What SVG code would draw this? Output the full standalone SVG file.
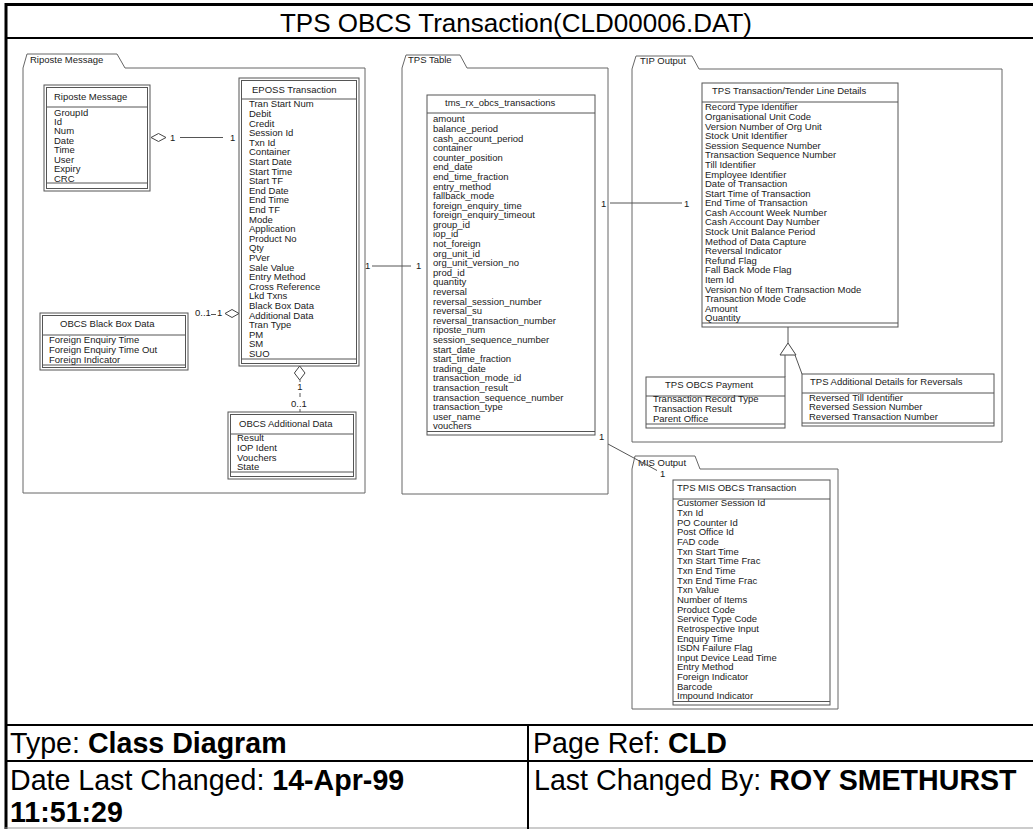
<svg xmlns="http://www.w3.org/2000/svg" width="1033" height="829" viewBox="0 0 1033 829">
<style>
.t{font-family:"Liberation Sans",Arial,sans-serif;font-size:9.5px;fill:#1a1a1a}
.ttl{font-family:"Liberation Sans",Arial,sans-serif;font-size:26px;fill:#000}
.ft{font-family:"Liberation Sans",Arial,sans-serif;font-size:28.6px;fill:#000}
.b{font-weight:bold}
.box{fill:#fff;stroke:#555;stroke-width:1}
.ln{fill:none;stroke:#555;stroke-width:1}
.pkg{fill:#fff;stroke:#666;stroke-width:1}
.dia{fill:#fff;stroke:#444;stroke-width:1}
.fr{stroke:#000;fill:none}
</style>
<rect x="0" y="0" width="1033" height="829" fill="#fff"/>
<g id="frame">
<line class="fr" x1="6" y1="3" x2="6" y2="829" stroke-width="3"/>
<line class="fr" x1="5" y1="4.5" x2="1033" y2="4.5" stroke-width="3"/>
<line class="fr" x1="5" y1="38" x2="1033" y2="38" stroke-width="2"/>
<text class="ttl" x="516" y="32" text-anchor="middle">TPS OBCS Transaction(CLD00006.DAT)</text>
<line class="fr" x1="5" y1="725" x2="1033" y2="725" stroke-width="2"/>
<line class="fr" x1="5" y1="761" x2="1033" y2="761" stroke-width="2"/>
<line x1="5" y1="828" x2="1033" y2="828" stroke="#999" stroke-width="1"/>
<line class="fr" x1="528" y1="725" x2="528" y2="829" stroke-width="2"/>
<text class="ft" x="10" y="753">Type: <tspan class="b">Class Diagram</tspan></text>
<text class="ft" x="533" y="753">Page Ref: <tspan class="b">CLD</tspan></text>
<text class="ft" x="10" y="790">Date Last Changed: <tspan class="b">14-Apr-99</tspan></text>
<text class="ft b" x="10" y="822">11:51:29</text>
<text class="ft" x="534" y="790">Last Changed By: <tspan class="b">ROY SMETHURST</tspan></text>
</g>
<g id="pkg-riposte">
<path class="pkg" d="M23,493 V68 L27,54 H117 L125,68 H365 V493 Z"/>
<text class="t" x="30" y="63">Riposte Message</text>
</g>
<g id="pkg-tps-table">
<path class="pkg" d="M402,494 V68 L406,55 H460 L467,68 H608 V494 Z"/>
<text class="t" x="408" y="63">TPS Table</text>
</g>
<g id="pkg-tip">
<path class="pkg" d="M632,442 V69 L636,56 H692 L699,69 H1002 V442 Z"/>
<text class="t" x="640" y="64">TIP Output</text>
</g>
<g id="pkg-mis">
<path class="pkg" d="M632,709 V469 L635,456 H695 L700,469 H838 V709 Z"/>
<text class="t" x="638" y="466">MIS Output</text>
</g>
<g id="cls-riposte-message">
<rect class="box" x="44" y="85" width="106" height="106"/>
<rect class="box" x="46.5" y="87.5" width="101" height="101"/>
<line class="ln" x1="46.5" y1="107" x2="147.5" y2="107"/>
<line class="ln" x1="46.5" y1="183" x2="147.5" y2="183"/>
<text class="t" x="54" y="100">Riposte Message</text>
<text class="t" x="54" y="115.5"><tspan x="54">GroupId</tspan><tspan x="54" dy="9.45">Id</tspan><tspan x="54" dy="9.45">Num</tspan><tspan x="54" dy="9.45">Date</tspan><tspan x="54" dy="9.45">Time</tspan><tspan x="54" dy="9.45">User</tspan><tspan x="54" dy="9.45">Expiry</tspan><tspan x="54" dy="9.45">CRC</tspan></text>
</g>
<g id="cls-eposs">
<rect class="box" x="239" y="78" width="120" height="288"/>
<rect class="box" x="241.5" y="80.5" width="115" height="283"/>
<line class="ln" x1="241.5" y1="99" x2="356.5" y2="99"/>
<line class="ln" x1="241.5" y1="359" x2="356.5" y2="359"/>
<text class="t" x="252" y="93">EPOSS Transaction</text>
<text class="t" x="249" y="107.4"><tspan x="249">Tran Start Num</tspan><tspan x="249" dy="9.6">Debit</tspan><tspan x="249" dy="9.6">Credit</tspan><tspan x="249" dy="9.6">Session Id</tspan><tspan x="249" dy="9.6">Txn Id</tspan><tspan x="249" dy="9.6">Container</tspan><tspan x="249" dy="9.6">Start Date</tspan><tspan x="249" dy="9.6">Start Time</tspan><tspan x="249" dy="9.6">Start TF</tspan><tspan x="249" dy="9.6">End Date</tspan><tspan x="249" dy="9.6">End Time</tspan><tspan x="249" dy="9.6">End TF</tspan><tspan x="249" dy="9.6">Mode</tspan><tspan x="249" dy="9.6">Application</tspan><tspan x="249" dy="9.6">Product No</tspan><tspan x="249" dy="9.6">Qty</tspan><tspan x="249" dy="9.6">PVer</tspan><tspan x="249" dy="9.6">Sale Value</tspan><tspan x="249" dy="9.6">Entry Method</tspan><tspan x="249" dy="9.6">Cross Reference</tspan><tspan x="249" dy="9.6">Lkd Txns</tspan><tspan x="249" dy="9.6">Black Box Data</tspan><tspan x="249" dy="9.6">Additional Data</tspan><tspan x="249" dy="9.6">Tran Type</tspan><tspan x="249" dy="9.6">PM</tspan><tspan x="249" dy="9.6">SM</tspan><tspan x="249" dy="9.6">SUO</tspan></text>
</g>
<g id="cls-black-box">
<rect class="box" x="40" y="313" width="148" height="57"/>
<rect class="box" x="42.5" y="315.5" width="143" height="52"/>
<line class="ln" x1="42.5" y1="335" x2="185.5" y2="335"/>
<line class="ln" x1="42.5" y1="365" x2="185.5" y2="365"/>
<text class="t" x="60" y="327">OBCS Black Box Data</text>
<text class="t" x="49" y="343.4"><tspan x="49">Foreign Enquiry Time</tspan><tspan x="49" dy="9.6">Foreign Enquiry Time Out</tspan><tspan x="49" dy="9.6">Foreign Indicator</tspan></text>
</g>
<g id="cls-additional-data">
<rect class="box" x="228" y="412" width="128" height="67"/>
<rect class="box" x="230.5" y="414.5" width="123" height="62"/>
<line class="ln" x1="230.5" y1="434" x2="353.5" y2="434"/>
<line class="ln" x1="230.5" y1="472" x2="353.5" y2="472"/>
<text class="t" x="239" y="427">OBCS Additional Data</text>
<text class="t" x="237" y="441.4"><tspan x="237">Result</tspan><tspan x="237" dy="9.6">IOP Ident</tspan><tspan x="237" dy="9.6">Vouchers</tspan><tspan x="237" dy="9.6">State</tspan></text>
</g>
<g id="cls-tms">
<rect class="box" x="427" y="95" width="168" height="340"/>
<line class="ln" x1="427" y1="113" x2="595" y2="113"/>
<line class="ln" x1="427" y1="431.5" x2="595" y2="431.5"/>
<text class="t" x="445" y="106">tms_rx_obcs_transactions</text>
<text class="t" x="433" y="122.4"><tspan x="433">amount</tspan><tspan x="433" dy="9.59">balance_period</tspan><tspan x="433" dy="9.59">cash_account_period</tspan><tspan x="433" dy="9.59">container</tspan><tspan x="433" dy="9.59">counter_position</tspan><tspan x="433" dy="9.59">end_date</tspan><tspan x="433" dy="9.59">end_time_fraction</tspan><tspan x="433" dy="9.59">entry_method</tspan><tspan x="433" dy="9.59">fallback_mode</tspan><tspan x="433" dy="9.59">foreign_enquiry_time</tspan><tspan x="433" dy="9.59">foreign_enquiry_timeout</tspan><tspan x="433" dy="9.59">group_id</tspan><tspan x="433" dy="9.59">iop_id</tspan><tspan x="433" dy="9.59">not_foreign</tspan><tspan x="433" dy="9.59">org_unit_id</tspan><tspan x="433" dy="9.59">org_unit_version_no</tspan><tspan x="433" dy="9.59">prod_id</tspan><tspan x="433" dy="9.59">quantity</tspan><tspan x="433" dy="9.59">reversal</tspan><tspan x="433" dy="9.59">reversal_session_number</tspan><tspan x="433" dy="9.59">reversal_su</tspan><tspan x="433" dy="9.59">reversal_transaction_number</tspan><tspan x="433" dy="9.59">riposte_num</tspan><tspan x="433" dy="9.59">session_sequence_number</tspan><tspan x="433" dy="9.59">start_date</tspan><tspan x="433" dy="9.59">start_time_fraction</tspan><tspan x="433" dy="9.59">trading_date</tspan><tspan x="433" dy="9.59">transaction_mode_id</tspan><tspan x="433" dy="9.59">transaction_result</tspan><tspan x="433" dy="9.59">transaction_sequence_number</tspan><tspan x="433" dy="9.59">transaction_type</tspan><tspan x="433" dy="9.59">user_name</tspan><tspan x="433" dy="9.59">vouchers</tspan></text>
</g>
<g id="cls-tip">
<rect class="box" x="702" y="83" width="196" height="244"/>
<line class="ln" x1="702" y1="102" x2="898" y2="102"/>
<line class="ln" x1="702" y1="323" x2="898" y2="323"/>
<text class="t" x="712" y="94">TPS Transaction/Tender Line Details</text>
<text class="t" x="705" y="110.4"><tspan x="705">Record Type Identifier</tspan><tspan x="705" dy="9.59">Organisational Unit Code</tspan><tspan x="705" dy="9.59">Version Number of Org Unit</tspan><tspan x="705" dy="9.59">Stock Unit Identifier</tspan><tspan x="705" dy="9.59">Session Sequence Number</tspan><tspan x="705" dy="9.59">Transaction Sequence Number</tspan><tspan x="705" dy="9.59">Till Identifier</tspan><tspan x="705" dy="9.59">Employee Identifier</tspan><tspan x="705" dy="9.59">Date of Transaction</tspan><tspan x="705" dy="9.59">Start Time of Transaction</tspan><tspan x="705" dy="9.59">End Time of Transaction</tspan><tspan x="705" dy="9.59">Cash Account Week Number</tspan><tspan x="705" dy="9.59">Cash Account Day Number</tspan><tspan x="705" dy="9.59">Stock Unit Balance Period</tspan><tspan x="705" dy="9.59">Method of Data Capture</tspan><tspan x="705" dy="9.59">Reversal Indicator</tspan><tspan x="705" dy="9.59">Refund Flag</tspan><tspan x="705" dy="9.59">Fall Back Mode Flag</tspan><tspan x="705" dy="9.59">Item Id</tspan><tspan x="705" dy="9.59">Version No of Item Transaction Mode</tspan><tspan x="705" dy="9.59">Transaction Mode Code</tspan><tspan x="705" dy="9.59">Amount</tspan><tspan x="705" dy="9.59">Quantity</tspan></text>
</g>
<g id="cls-payment">
<rect class="box" x="646" y="377" width="139" height="51"/>
<line class="ln" x1="646" y1="396" x2="785" y2="396"/>
<line class="ln" x1="646" y1="424" x2="785" y2="424"/>
<text class="t" x="665" y="388">TPS OBCS Payment</text>
<text class="t" x="653" y="402.4"><tspan x="653">Transaction Record Type</tspan><tspan x="653" dy="9.8">Transaction Result</tspan><tspan x="653" dy="9.8">Parent Office</tspan></text>
</g>
<g id="cls-reversals">
<rect class="box" x="802" y="374" width="192" height="52"/>
<line class="ln" x1="802" y1="393" x2="994" y2="393"/>
<line class="ln" x1="802" y1="423" x2="994" y2="423"/>
<text class="t" x="810" y="385">TPS Additional Details for Reversals</text>
<text class="t" x="809" y="400.6"><tspan x="809">Reversed Till Identifier</tspan><tspan x="809" dy="9.8">Reversed Session Number</tspan><tspan x="809" dy="9.8">Reversed Transaction Number</tspan></text>
</g>
<g id="cls-mis">
<rect class="box" x="673" y="480" width="157" height="225"/>
<line class="ln" x1="673" y1="499" x2="830" y2="499"/>
<line class="ln" x1="673" y1="701.5" x2="830" y2="701.5"/>
<text class="t" x="677" y="491">TPS MIS OBCS Transaction</text>
<text class="t" x="677" y="506.4"><tspan x="677">Customer Session Id</tspan><tspan x="677" dy="9.65">Txn Id</tspan><tspan x="677" dy="9.65">PO Counter Id</tspan><tspan x="677" dy="9.65">Post Office Id</tspan><tspan x="677" dy="9.65">FAD code</tspan><tspan x="677" dy="9.65">Txn Start Time</tspan><tspan x="677" dy="9.65">Txn Start Time Frac</tspan><tspan x="677" dy="9.65">Txn End Time</tspan><tspan x="677" dy="9.65">Txn End Time Frac</tspan><tspan x="677" dy="9.65">Txn Value</tspan><tspan x="677" dy="9.65">Number of Items</tspan><tspan x="677" dy="9.65">Product Code</tspan><tspan x="677" dy="9.65">Service Type Code</tspan><tspan x="677" dy="9.65">Retrospective Input</tspan><tspan x="677" dy="9.65">Enquiry Time</tspan><tspan x="677" dy="9.65">ISDN Failure Flag</tspan><tspan x="677" dy="9.65">Input Device Lead Time</tspan><tspan x="677" dy="9.65">Entry Method</tspan><tspan x="677" dy="9.65">Foreign Indicator</tspan><tspan x="677" dy="9.65">Barcode</tspan><tspan x="677" dy="9.65">Impound Indicator</tspan></text>
</g>
<g id="connectors">
<polygon class="dia" points="151,137.5 158.5,133.5 166,137.5 158.5,141.5"/>
<text class="t" x="170" y="141">1</text>
<line class="ln" x1="180" y1="137.5" x2="223" y2="137.5"/>
<text class="t" x="230" y="141">1</text>
<text class="t" x="195" y="316">0..1</text>
<line class="ln" x1="211" y1="314.5" x2="216" y2="314.5"/>
<text class="t" x="217" y="316">1</text>
<polygon class="dia" points="225,313.5 232,309.5 239,313.5 232,317.5"/>
<polygon class="dia" points="299.7,366 305,373 299.7,380 294.4,373"/>
<line class="ln" x1="300" y1="380" x2="300" y2="382"/>
<text class="t" x="300" y="390" text-anchor="middle">1</text>
<line class="ln" x1="300" y1="393" x2="300" y2="397"/>
<text class="t" x="299" y="406.5" text-anchor="middle">0..1</text>
<line class="ln" x1="300" y1="409" x2="300" y2="412"/>
<text class="t" x="365" y="269">1</text>
<line class="ln" x1="372" y1="266" x2="411" y2="266"/>
<text class="t" x="416" y="269">1</text>
<text class="t" x="601" y="206.5">1</text>
<line class="ln" x1="610" y1="203" x2="682" y2="203"/>
<text class="t" x="684" y="206.5">1</text>
<text class="t" x="599" y="440">1</text>
<line class="ln" x1="608" y1="444" x2="657" y2="470.5"/>
<text class="t" x="660" y="477">1</text>
<line class="ln" x1="788" y1="327" x2="788" y2="343"/>
<polygon class="dia" points="788,343 780,355 796,355"/>
<line class="ln" x1="785" y1="355" x2="785" y2="377"/>
<line class="ln" x1="795" y1="355" x2="802" y2="374"/>
</g>
</svg>
